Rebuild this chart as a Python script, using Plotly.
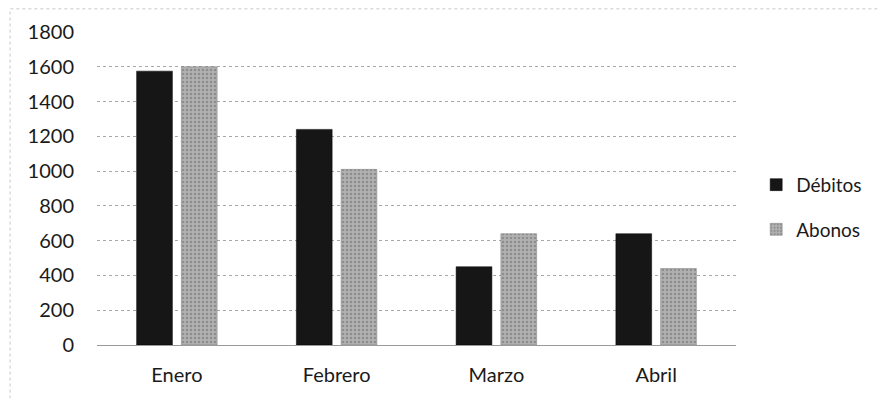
import plotly.graph_objects as go

categories = ["Enero", "Febrero", "Marzo", "Abril"]
debitos = [1575, 1240, 450, 640]
abonos = [1600, 1010, 640, 440]
y_ticks = [0, 200, 400, 600, 800, 1000, 1200, 1400, 1600, 1800]

FONT = "Lato, 'Open Sans', sans-serif"

fig = go.Figure()
fig.add_trace(go.Bar(
    name="Débitos", x=categories, y=debitos,
    marker=dict(color="#161616", line=dict(color="#000000", width=0.5)),
    legendgroup="d",
))
fig.add_trace(go.Bar(
    name="Abonos", x=categories, y=abonos,
    marker=dict(color="#9a9a9a", line=dict(color="#7a7a7a", width=0.5),
                pattern=dict(shape=".", fgcolor="#6a6a6a", bgcolor="#b0b0b0", size=4, solidity=0.3)),
    legendgroup="a",
))

fig.update_layout(
    width=870, height=390,
    margin=dict(l=89, r=141, t=24, b=53),
    paper_bgcolor="white", plot_bgcolor="white",
    barmode="group", bargap=0.44, bargroupgap=0.2,
    font=dict(family=FONT, size=20, color="#1a1a1a"),
    showlegend=True,
    legend=dict(x=1.03, y=0.44, xanchor="left", yanchor="middle",
                font=dict(family=FONT, size=19, color="#1a1a1a"),
                tracegroupgap=17, traceorder="grouped", bgcolor="rgba(0,0,0,0)"),
    xaxis=dict(showgrid=False, showline=False, ticks="", tickfont=dict(size=20),
               ticklabelstandoff=16),
    yaxis=dict(range=[0, 1800], tickvals=y_ticks, showgrid=True,
               gridcolor="#a8a8a8", griddash="dot", gridwidth=1,
               zeroline=True, zerolinecolor="#9a9a9a", zerolinewidth=1,
               showline=False, ticks="", tickfont=dict(size=20),
               ticklabelstandoff=22),
    shapes=[dict(type="rect", xref="paper", yref="paper",
                 x0=-0.136, x1=1.3, y0=-0.3, y1=1.074,
                 line=dict(color="#c8c8c8", width=1, dash="dot"))],
)

fig.write_html("out.html")
